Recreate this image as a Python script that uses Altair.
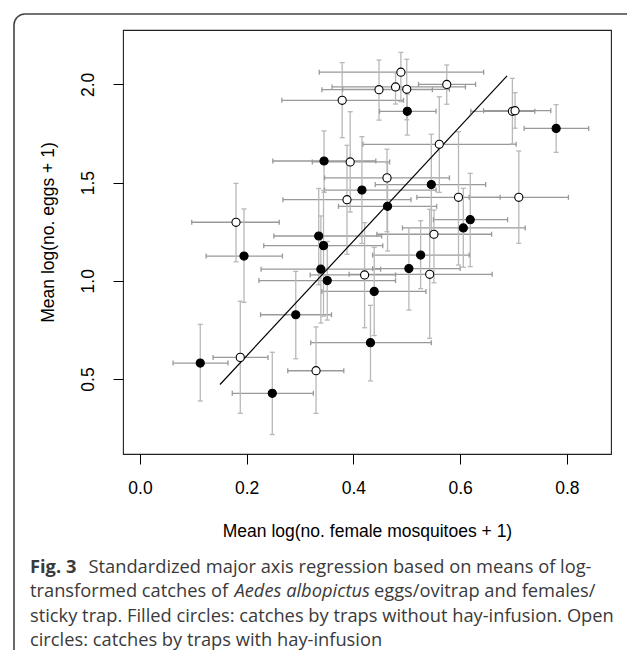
import altair as alt
import pandas as pd

# ---- filled circles: traps without hay-infusion ----
f_x   = [0.113, 0.195, 0.248, 0.292, 0.335, 0.344, 0.339, 0.351, 0.345, 0.416,
         0.464, 0.439, 0.432, 0.501, 0.504, 0.526, 0.546, 0.606, 0.619, 0.780]
f_y   = [0.581, 1.126, 0.427, 0.827, 1.228, 1.179, 1.059, 1.001, 1.610, 1.462,
         1.379, 0.946, 0.685, 1.863, 1.062, 1.131, 1.490, 1.269, 1.311, 1.776]
f_xlo = [0.062, 0.124, 0.173, 0.226, 0.251, 0.232, 0.227, 0.223, 0.249, 0.346,
         0.372, 0.341, 0.320, 0.449, 0.436, 0.436, 0.441, 0.492, 0.550, 0.720]
f_xhi = [0.165, 0.267, 0.325, 0.359, 0.453, 0.455, 0.451, 0.479, 0.442, 0.555,
         0.556, 0.536, 0.546, 0.555, 0.600, 0.617, 0.648, 0.722, 0.689, 0.841]
f_ylo = [0.388, 0.890, 0.217, 0.603, 0.980, 0.820, 0.785, 0.800, 1.450, 1.190,
         1.152, 0.721, 0.490, 1.742, 0.851, 0.960, 1.240, 1.069, 1.072, 1.654]
f_yhi = [0.778, 1.366, 0.636, 1.048, 1.470, 1.460, 1.330, 1.200, 1.763, 1.734,
         1.600, 1.170, 0.875, 1.950, 1.270, 1.306, 1.746, 1.471, 1.547, 1.897]

# ---- open circles: traps with hay-infusion ----
o_x   = [0.180, 0.188, 0.330, 0.379, 0.394, 0.388, 0.421, 0.448, 0.463, 0.479,
         0.489, 0.500, 0.575, 0.561, 0.551, 0.543, 0.597, 0.710, 0.698, 0.703]
o_y   = [1.298, 0.610, 0.542, 1.919, 1.605, 1.413, 1.030, 1.973, 1.524, 1.987,
         2.062, 1.975, 2.000, 1.695, 1.237, 1.033, 1.425, 1.425, 1.863, 1.866]
o_xlo = [0.097, 0.137, 0.277, 0.266, 0.323, 0.268, 0.319, 0.341, 0.346, 0.360,
         0.336, 0.380, 0.522, 0.418, 0.444, 0.392, 0.519, 0.617, 0.620, 0.644]
o_xhi = [0.261, 0.240, 0.382, 0.494, 0.468, 0.508, 0.479, 0.548, 0.580, 0.610,
         0.644, 0.580, 0.629, 0.705, 0.659, 0.660, 0.675, 0.803, 0.740, 0.770]
o_ylo = [1.097, 0.325, 0.325, 1.729, 1.350, 1.135, 0.761, 1.818, 1.250, 1.900,
         1.912, 1.820, 1.899, 1.450, 0.990, 0.707, 1.080, 1.191, 1.697, 1.777]
o_yhi = [1.496, 0.896, 0.765, 2.111, 1.861, 1.690, 1.296, 2.124, 1.670, 2.060,
         2.163, 2.128, 2.099, 1.937, 1.360, 1.364, 1.759, 1.661, 2.031, 1.958]

# ---- standardized major axis regression line (end points) ----
line_x = [0.150, 0.688]
line_y = [0.472, 2.043]

x_ticks = [0.0, 0.2, 0.4, 0.6, 0.8]
y_ticks = [0.5, 1.0, 1.5, 2.0]

x_title = "Mean log(no. female mosquitoes + 1)"
y_title = "Mean log(no. eggs + 1)"

cap_l1a = "Fig. 3"
cap_l1b = "Standardized major axis regression based on means of log-"
cap_l2a = "transformed catches of"
cap_l2b = "Aedes albopictus"
cap_l2c = "eggs/ovitrap and females/"
cap_l3 = "sticky trap. Filled circles: catches by traps without hay-infusion. Open"
cap_l4 = "circles: catches by traps with hay-infusion"

df = pd.concat([
    pd.DataFrame({"x": f_x, "y": f_y, "xlo": f_xlo, "xhi": f_xhi,
                  "ylo": f_ylo, "yhi": f_yhi, "t": "filled"}),
    pd.DataFrame({"x": o_x, "y": o_y, "xlo": o_xlo, "xhi": o_xhi,
                  "ylo": o_ylo, "yhi": o_yhi, "t": "open"}),
], ignore_index=True)
line_df = pd.DataFrame({"x": line_x, "y": line_y})

W, H = 488, 424
PL, PT = 115, 22
TOTAL_W, TOTAL_H = 619, 642

xs = alt.Scale(domain=[-0.0318, 0.8828], nice=False, zero=False)
ys = alt.Scale(domain=[0.118, 2.277], nice=False, zero=False)

AX_FONT = "Liberation Sans"
AX_SIZE = 17.5
xaxis = alt.Axis(values=x_ticks, format=".1f", title=x_title, grid=False, domain=False,
                 tickSize=10, tickColor="black", tickWidth=1,
                 labelFont=AX_FONT, labelFontSize=AX_SIZE, labelColor="black",
                 labelBaseline="alphabetic", labelPadding=29,
                 titleFont=AX_FONT, titleFontSize=AX_SIZE, titleFontWeight="normal",
                 titleColor="black", titleBaseline="alphabetic", titleY=82)
yaxis = alt.Axis(values=y_ticks, format=".1f", title=y_title, grid=False, domain=False,
                 tickSize=10, tickColor="black", tickWidth=1,
                 labelFont=AX_FONT, labelFontSize=AX_SIZE, labelColor="black",
                 labelAngle=270, labelAlign="center", labelBaseline="alphabetic",
                 labelPadding=19.5,
                 titleFont=AX_FONT, titleFontSize=AX_SIZE, titleFontWeight="normal",
                 titleColor="black", titleAngle=270, titleAlign="center",
                 titleBaseline="alphabetic", titleX=-70, titleY=202)

HC = "#999999"
VC = "#b8b8b8"

base = alt.Chart(df)

hbar = base.mark_rule(color=HC, strokeWidth=1.3).encode(
    x=alt.X("xlo:Q", scale=xs, axis=xaxis), x2="xhi:Q",
    y=alt.Y("y:Q", scale=ys, axis=yaxis))
hcap = base.transform_fold(["xlo", "xhi"], as_=["k", "xv"]).mark_tick(
    orient="vertical", size=5, thickness=1.3, color=HC, opacity=1).encode(
    x=alt.X("xv:Q", scale=xs, axis=xaxis), y=alt.Y("y:Q", scale=ys, axis=yaxis))
vbar = base.mark_rule(color=VC, strokeWidth=1.3).encode(
    x=alt.X("x:Q", scale=xs, axis=xaxis),
    y=alt.Y("ylo:Q", scale=ys, axis=yaxis), y2="yhi:Q")
vcap = base.transform_fold(["ylo", "yhi"], as_=["k", "yv"]).mark_tick(
    orient="horizontal", size=5, thickness=1.3, color=VC, opacity=1).encode(
    x=alt.X("x:Q", scale=xs, axis=xaxis), y=alt.Y("yv:Q", scale=ys, axis=yaxis))

reg = alt.Chart(line_df).mark_line(color="black", strokeWidth=1.2).encode(
    x=alt.X("x:Q", scale=xs, axis=xaxis), y=alt.Y("y:Q", scale=ys, axis=yaxis))

pts = base.mark_point(shape="circle", filled=True, size=66, stroke="black",
                      strokeWidth=1.1, opacity=1).encode(
    x=alt.X("x:Q", scale=xs, axis=xaxis), y=alt.Y("y:Q", scale=ys, axis=yaxis),
    fill=alt.Fill("t:N", scale=alt.Scale(domain=["filled", "open"],
                                         range=["black", "white"]), legend=None))

# outer rounded figure border
border = alt.Chart(pd.DataFrame({"a": [0]})).mark_rect(
    fillOpacity=0, stroke="#444", strokeWidth=1.6, cornerRadius=11).encode(
    x=alt.value(14 - 8 - PL), x2=alt.value(760),
    y=alt.value(14 - 8 - PT), y2=alt.value(700))

CAP_FONT = "Open Sans"
CAP_SIZE = 18.3
CAP_COLOR = "#3a3a3a"


def cap(text, sx, sy, weight="normal", style="normal"):
    return alt.Chart(pd.DataFrame({"s": [text]})).mark_text(
        align="left", baseline="alphabetic", font=CAP_FONT, fontSize=CAP_SIZE,
        fontWeight=weight, fontStyle=style, color=CAP_COLOR).encode(
        text="s:N", x=alt.value(sx - 8 - PL), y=alt.value(sy - 8 - PT))


caption = [
    cap(cap_l1a, 30, 572.5, weight="bold"),
    cap(cap_l1b, 88.5, 572.5),
    cap(cap_l2a, 30, 597),
    cap(cap_l2b, 234.5, 597, style="italic"),
    cap(cap_l2c, 374, 597),
    cap(cap_l3, 30, 621.5),
    cap(cap_l4, 30, 645.5),
]

chart = alt.layer(border, hbar, vbar, hcap, vcap, reg, pts, *caption).properties(
    width=W, height=H,
    autosize=alt.AutoSizeParams(type="none"),
    padding={"left": PL, "top": PT, "right": TOTAL_W - PL - W,
             "bottom": TOTAL_H - PT - H},
).configure_view(stroke="#222", strokeWidth=1.1)

chart.save("out.html", embed_options={"renderer": "svg", "actions": False})
